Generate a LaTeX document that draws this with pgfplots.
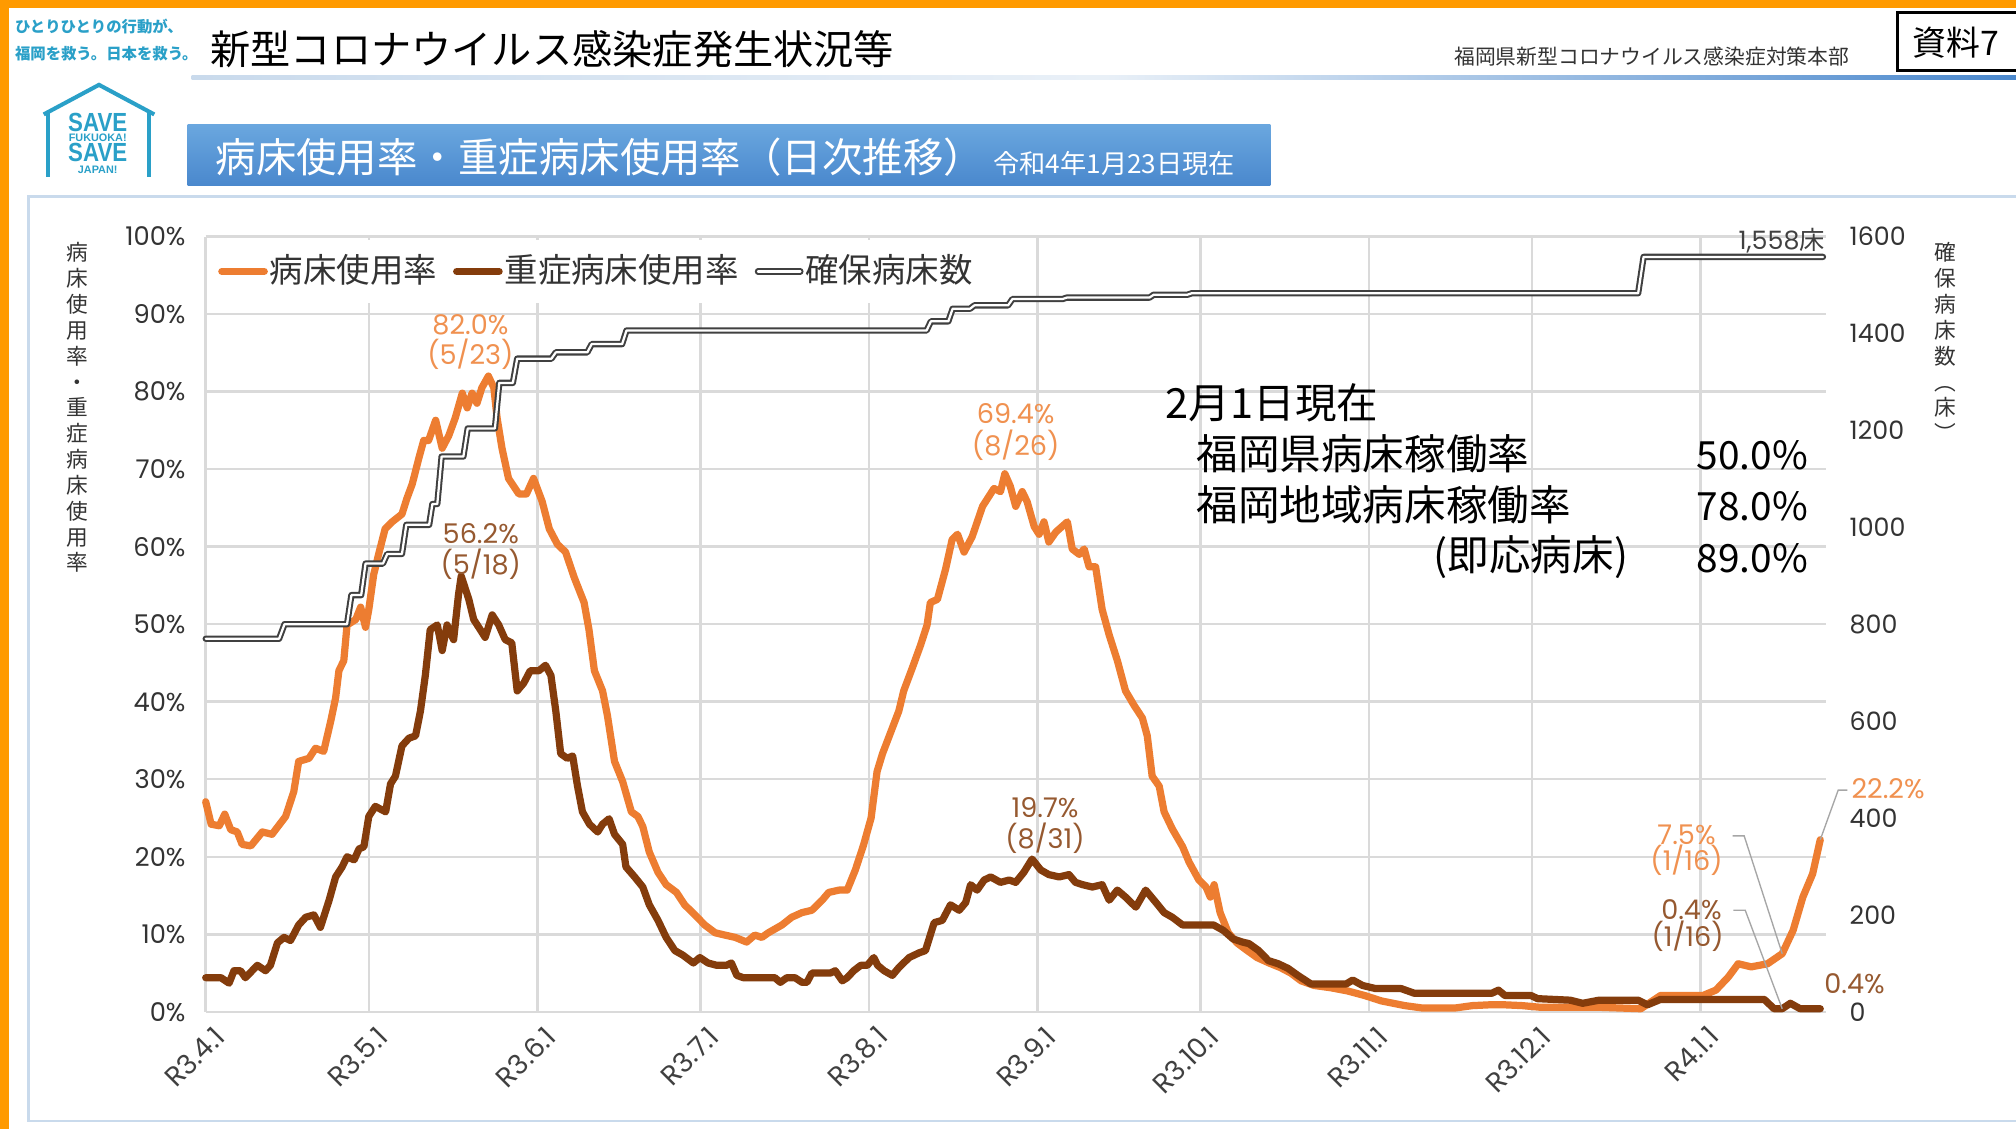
\documentclass[border=0pt]{standalone}
\usepackage{fontspec}
\setmainfont{Noto Sans CJK JP}
\newfontfamily\cjk{Noto Sans CJK JP}
\newfontfamily\num{Poppins}
\usepackage{graphicx}
\usepackage{pgfplots}
\pgfplotsset{compat=1.18}
\definecolor{cOr}{HTML}{ED7D31}
\definecolor{cBr}{HTML}{843C0C}
\definecolor{cFrame}{HTML}{FF9A00}
\definecolor{cTeal}{HTML}{2AA0C8}
\definecolor{cGrid}{HTML}{DADADA}
\definecolor{cBed}{HTML}{404040}
\definecolor{cBanTop}{HTML}{6AA7DF}
\definecolor{cBanBot}{HTML}{4A88CD}
\definecolor{cBox}{HTML}{C9DAEC}
\definecolor{cLead}{HTML}{A6A6A6}
\tikzset{bedline/.style={draw=cBed, double=white, double distance=0.5pt, line width=0.45pt, line cap=round, line join=round}}
\begin{document}
\begin{tikzpicture}
\begin{scope}[x=0.1mm,y=-0.1mm]
\useasboundingbox (0,0) rectangle (1568,878);
\fill[white] (0,0) rectangle (1568,878);
\fill[cFrame] (0,0) rectangle (1568,6);
\fill[cFrame] (0,0) rectangle (7,878);
% header
\node[anchor=west, inner sep=0, text=cTeal, font=\cjk\bfseries\fontsize{3.4}{4}\selectfont] at (11,21) {ひとりひとりの行動が、};
\node[anchor=west, inner sep=0, text=cTeal, font=\cjk\bfseries\fontsize{3.4}{4}\selectfont] at (11,42) {福岡を救う。日本を救う。};
\node[anchor=west, inner sep=0, font=\cjk\fontsize{8.9}{9}\selectfont] at (163,38) {新型コロナウイルス感染症発生状況等};
\node[anchor=east, inner sep=0, text=black!80, font=\cjk\fontsize{4.6}{5}\selectfont] at (1439,44) {福岡県新型コロナウイルス感染症対策本部};
\draw[black, line width=0.6pt] (1476,10) rectangle (1575,55);
\node[inner sep=0, font=\cjk\fontsize{7.5}{8}\selectfont] at (1521,33) {資料7};
\shade[left color=cBox, right color=cBanBot, middle color=cBox!40!white] (149,58.5) rectangle (1568,62);
% logo
\draw[cTeal, line width=0.9pt, line join=miter] (34,89) -- (77,66) -- (120,89);
\draw[cTeal, line width=0.9pt] (37,86) -- (37,138);
\draw[cTeal, line width=0.9pt] (116,86) -- (116,138);
\node[inner sep=0, text=cTeal, font=\fontspec{Liberation Sans}\bfseries\fontsize{5.8}{6}\selectfont] at (76,95) {\scalebox{0.85}[1]{SAVE}};
\node[inner sep=0, text=cTeal, font=\fontspec{Liberation Sans}\bfseries\fontsize{2.4}{3}\selectfont] at (76,107) {FUKUOKA!};
\node[inner sep=0, text=cTeal, font=\fontspec{Liberation Sans}\bfseries\fontsize{5.8}{6}\selectfont] at (76,119) {\scalebox{0.85}[1]{SAVE}};
\node[inner sep=0, text=cTeal, font=\fontspec{Liberation Sans}\bfseries\fontsize{2.4}{3}\selectfont] at (76,132) {JAPAN!};
% banner
\shade[top color=cBanTop, bottom color=cBanBot] (146,97) rectangle (988,144);
\node[anchor=west, text=white, inner sep=0, font=\cjk\fontsize{8.95}{9}\selectfont] at (167,122) {病床使用率・重症病床使用率（日次推移）};
\node[anchor=west, text=white, inner sep=0, font=\cjk\fontsize{5.8}{6}\selectfont] at (772,127) {令和4年1月23日現在};
% chart frame
\draw[cBox, line width=0.6pt] (22,153) rectangle (1590,872);
% axis labels
\node[anchor=north, align=center, inner sep=0, text=black!80, font=\cjk\fontsize{4.8}{5.72}\selectfont] at (60,188) {病\\床\\使\\用\\率\\・\\重\\症\\病\\床\\使\\用\\率};
\node[anchor=north, align=center, inner sep=0, text=black!80, font=\cjk\fontsize{4.8}{5.72}\selectfont] at (1513,188) {確\\保\\病\\床\\数\\︵\\床\\︶};
\end{scope}

\begin{axis}[
  at={(16mm,-78.7mm)}, anchor=south west, scale only axis,
  width=126mm, height=60.3mm,
  xmin=0, xmax=298, ymin=0, ymax=100,
  axis line style={draw=none}, major tick length=0pt,
  xtick={0,30,61,91,122,153,183,214,244,275},
  xticklabels={R3.4.1,R3.5.1,R3.6.1,R3.7.1,R3.8.1,R3.9.1,R3.10.1,R3.11.1,R3.12.1,R4.1.1},
  ytick={0,10,...,100},
  yticklabels={0\%,10\%,20\%,30\%,40\%,50\%,60\%,70\%,80\%,90\%,100\%},
  grid=major, grid style={draw=cGrid, line width=0.55pt},
  xticklabel style={font=\num\fontsize{6.1}{7}\selectfont, text=black!75, inner sep=0pt, xshift=1.1mm, yshift=-1.5mm, rotate=45, anchor=east},
  yticklabel style={font=\num\fontsize{5.7}{6}\selectfont, text=black!80, inner sep=0pt, anchor=east, xshift=-1.5mm},
  clip=false,
  legend columns=3,
  legend style={at={(0.0024,0.997)}, anchor=north west, draw=none, fill=white, inner xsep=0.6mm, inner ysep=0.5mm,
    font=\cjk\fontsize{7.4}{8}\selectfont, text=black!80,
    nodes={inner xsep=0.15mm, inner ysep=0.6mm},
    /tikz/every even column/.append style={column sep=1.1mm}},
  legend image code/.code={\draw[#1] (0mm,0mm) -- (3.3mm,0mm);},
]
\addplot[cOr, line width=1.6pt, line join=round, line cap=round] coordinates {
(0,27.1)(1,24.2)(2.5,24)(3.5,25.5)(4.6,23.5)(5.8,23.2)(6.7,21.6)(8.3,21.4)(10.4,23.2)(12.2,22.9)
(14.7,25.2)(16.2,28.4)(17.1,32.3)(19,32.7)(20.2,34)(21.7,33.6)(23,37.5)(23.9,40.5)(24.5,44)(25.4,45.3)
(26,49.9)(27.6,50.6)(28.5,52.2)(29.4,49.6)(30,51.9)(30.9,56.4)(31.8,59)(33,62.3)(34.3,63.2)(36.1,64.2)
(37,66.2)(38,68.1)(39.2,71.4)(40.1,73.7)(41,73.7)(42.3,76.3)(43.5,72.7)(44.7,74.3)(45.9,76.6)(47.2,79.8)
(48.1,77.9)(49,79.8)(49.9,78.5)(50.8,80.5)(52,82.0)(53,80.5)(53.6,76.6)(54.5,72.7)(55.7,68.8)(57.6,66.8)
(59,66.8)(60.3,68.8)(61.9,65.8)(63.2,62.3)(64.7,60.3)(66.2,59.3)(67.8,56)(69.6,52.8)(70.5,49.3)(71.5,44)
(73,41.4)(73.9,38.2)(75.2,32.3)(76.7,29.7)(78.3,25.8)(79.5,25.2)(80.4,23.9)(81.6,20.6)(83.2,18)(84.7,16.4)
(86.6,15.4)(88.1,13.8)(90,12.5)(91.8,11.2)(93.7,10.2)(95.5,9.9)(97.4,9.6)(99.5,9)(101,9.9)(102.3,9.6)
(103.5,10.2)(106,11.2)(107.8,12.2)(109.7,12.8)(111.5,13.1)(113.4,14.4)(114.6,15.4)(116.5,15.7)(118,15.7)(119.5,18.3)
(121,21.5)(122.4,25)(123.5,31)(124.5,33.3)(126.3,36.6)(127.5,38.8)(128.4,41.4)(130,44.4)(131.5,47.3)(132.7,49.9)
(133.3,52.8)(134.6,53.2)(136.1,57.1)(137.3,60.9)(138.3,61.6)(139.5,59.3)(141,61.3)(142.9,65.2)(145,67.5)(146.2,67.1)
(147,69.4)(148,67.8)(149,65.2)(150.2,67.1)(151.1,65.8)(152.4,62.6)(153.3,61.6)(154.2,63.2)(155.1,60.6)(156.4,61.9)
(158.5,63.2)(159.4,59.7)(160.7,59)(161.6,59.7)(162.5,57.4)(163.7,57.4)(164.9,51.9)(166.2,48.6)(167.7,45.3)(169.2,41.4)
(170.8,39.5)(172.3,37.9)(173.2,35.6)(174.1,30.4)(175.4,29.1)(176.3,25.8)(177.8,23.6)(179.7,21.3)(180.9,19.3)(182.7,17)
(184,16.1)(184.8,14.8)(185.5,16.4)(186.6,12.8)(188.1,10.2)(189.7,8.9)(191.6,7.9)(193.4,7)(195.6,6.3)(197.7,5.7)
(199.6,5)(201.5,4)(203.9,3.4)(207,3.1)(210,2.7)(213.2,2.1)(216.3,1.4)(220.6,0.8)(223.7,0.5)(226.8,0.5)
(229.9,0.5)(233,0.8)(236,0.9)(239.1,0.9)(242.2,0.8)(245.3,0.6)(248.6,0.6)(255.7,0.6)(264,0.4)(267.6,2.1)
(271.2,2.1)(275.4,2.1)(277.8,2.8)(280.1,4.5)(281.9,6.2)(284.3,5.8)(287.3,6.2)(290,7.5)(292,10.5)(293.8,14.8)
(295.6,17.8)(297,22.2)
};
\addlegendentry{病床使用率}
\addplot[cBr, line width=1.6pt, line join=round, line cap=round] coordinates {
(0,4.4)(2.8,4.4)(4.3,3.7)(5.2,5.3)(6.4,5.3)(7.3,4.4)(9.5,6)(11,5.3)(11.9,6)(13.2,8.9)
(14.4,9.6)(15.6,9.2)(17.1,11.2)(18.4,12.2)(19.9,12.5)(21.1,10.9)(22.7,14.4)(23.9,17.4)(25.1,18.7)(26,20)
(27.3,19.6)(28.2,21)(29.1,21.3)(30,25.2)(31.2,26.5)(33.1,25.8)(34,29.4)(34.9,30.4)(36.1,34.3)(37.4,35.3)
(38.6,35.6)(39.5,38.8)(40.4,43.4)(41.3,49.3)(42.6,49.9)(43.5,46.6)(44.4,49.9)(45.6,48)(46.5,53.8)(47,56.2)
(48.4,53.2)(49.3,50.6)(50.5,49.3)(51.4,48.3)(52.7,51.2)(53.9,49.9)(55.1,48)(56.3,47.6)(57.3,41.4)(58.5,42.4)
(59.7,44)(61.3,44)(62.5,44.7)(63.5,43.4)(64.4,38.8)(65.3,33.3)(66.5,32.7)(67.5,33)(68.4,29.1)(69.3,25.8)
(70.6,24.2)(72.1,23.2)(73,24.2)(74.2,24.9)(75.2,22.9)(76.7,21.6)(77.3,18.7)(78.9,17.4)(80.4,16.1)(81.6,13.8)
(83.2,11.8)(84.7,9.6)(86.3,7.9)(87.8,7.3)(89.7,6.3)(90.9,7)(92.4,6.3)(94,6)(95.8,6)(96.7,6.3)
(97.7,4.7)(98.9,4.4)(103.5,4.4)(104.7,4.4)(105.7,3.8)(106.9,4.4)(108.4,4.4)(109.7,3.8)(110.6,3.8)(111.5,5)
(113.4,5)(114.9,5)(115.8,5.3)(117.1,4)(118,4.4)(119.2,5.3)(120.5,6)(121.7,6)(122.9,7)(123.6,6)
(124.8,5.3)(126.3,4.7)(127.5,5.7)(129.4,7)(131.2,7.6)(132.4,7.9)(134,11.5)(135.5,11.8)(137,13.8)(138.6,13.1)
(139.8,14.1)(140.7,16.4)(141.9,15.7)(143.2,17)(144.4,17.4)(146.2,16.7)(147.8,17)(149,16.7)(150.5,18)(152,19.7)
(153.6,18.3)(155.1,17.7)(157,17.4)(158.8,17.7)(160,16.7)(161.3,16.4)(163.1,16.1)(164.9,16.4)(166.2,14.4)(167.7,15.7)
(169.2,14.8)(171.1,13.5)(172.9,15.7)(174.8,14.1)(176.3,12.8)(177.8,12.2)(179.7,11.2)(185.4,11.2)(187.2,10.5)(189,9.4)
(190.7,9)(191.9,8.8)(193.7,7.9)(195.5,6.6)(197.3,6.2)(199.1,5.6)(200.9,4.7)(203.3,3.6)(209.8,3.6)(211,4.1)
(212.8,3.4)(215.2,3)(219.9,3)(222.3,2.4)(236.6,2.4)(237.8,2.8)(239,2.1)(243.8,2.1)(245,1.7)(251,1.5)
(253.3,1.1)(256.3,1.5)(263.5,1.5)(265.2,0.9)(267.6,1.6)(286.7,1.6)(288.5,0.4)(290,0.4)(291.5,1.1)(293.3,0.4)
(297,0.4)
};
\addlegendentry{重症病床使用率}
\addlegendimage{bedline}
\addlegendentry{確保病床数}
% annotations
\node[inner sep=0, text=cOr!85!white, font=\num\fontsize{6}{6}\selectfont] at (48.7,88.6) {82.0\%};
\node[inner sep=0, text=cOr!85!white, font=\num\fontsize{6}{6}\selectfont] at (48.7,84.8) {(5/23)};
\node[inner sep=0, text=cBr!85!white, font=\num\fontsize{6}{6}\selectfont] at (50.6,61.7) {56.2\%};
\node[inner sep=0, text=cBr!85!white, font=\num\fontsize{6}{6}\selectfont] at (50.6,57.7) {(5/18)};
\node[inner sep=0, text=cOr!85!white, font=\num\fontsize{6}{6}\selectfont] at (149,77.1) {69.4\%};
\node[inner sep=0, text=cOr!85!white, font=\num\fontsize{6}{6}\selectfont] at (149,73.1) {(8/26)};
\node[inner sep=0, text=cBr!85!white, font=\num\fontsize{6}{6}\selectfont] at (154.4,26.3) {19.7\%};
\node[inner sep=0, text=cBr!85!white, font=\num\fontsize{6}{6}\selectfont] at (154.4,22.4) {(8/31)};
\draw[cLead, line width=0.3pt] (297,22.2) -- (300.3,28.6) -- (302,28.6);
\node[anchor=west, inner sep=0, text=cOr!85!white, font=\num\fontsize{6}{6}\selectfont] at (302.6,28.8) {22.2\%};
\draw[cLead, line width=0.3pt] (290,7.5) -- (283,22.7) -- (280.9,22.7);
\node[inner sep=0, text=cOr!85!white, font=\num\fontsize{6}{6}\selectfont] at (272.4,22.8) {7.5\%};
\node[inner sep=0, text=cOr!85!white, font=\num\fontsize{6}{6}\selectfont] at (272.4,19.5) {(1/16)};
\draw[cLead, line width=0.3pt] (290,0.4) -- (283.2,13.1) -- (281,13.1);
\node[inner sep=0, text=cBr!85!white, font=\num\fontsize{6}{6}\selectfont] at (273.3,13.2) {0.4\%};
\node[inner sep=0, text=cBr!85!white, font=\num\fontsize{6}{6}\selectfont] at (272.6,9.8) {(1/16)};
\node[inner sep=0, text=cBr!85!white, font=\num\fontsize{6}{6}\selectfont] at (303.3,3.6) {0.4\%};
\end{axis}

\begin{axis}[
  at={(16mm,-78.7mm)}, anchor=south west, scale only axis,
  width=126mm, height=60.3mm,
  xmin=0, xmax=298, ymin=0, ymax=1600,
  hide x axis, axis y line*=right, axis line style={draw=none}, major tick length=0pt,
  ytick={0,200,...,1600},
  yticklabels={0,200,400,600,800,1000,1200,1400,1600},
  yticklabel style={font=\num\fontsize{5.6}{6}\selectfont, text=black!80, inner sep=0pt, anchor=west, xshift=1.8mm},
  clip=false,
]
\addplot[bedline] coordinates {
(0,770)(13.5,770)(14.5,800)(26,800)(26.8,860)(28.6,860)(29.4,925)(32.6,925)(33.4,945)(36.1,945)
(36.9,1005)(41.1,1005)(41.7,1048)(42.6,1048)(43.4,1146)(47.4,1146)(48.2,1204)(53.2,1204)(54,1298)(56.5,1298)
(57.3,1348)(63.6,1348)(64.4,1361)(70.2,1361)(71,1378)(76.6,1378)(77.4,1406)(132.6,1406)(133.4,1425)(136.6,1425)
(137.4,1451)(140.6,1451)(141.4,1458)(147.6,1458)(148.4,1471)(157.6,1471)(158.4,1474)(173.6,1474)(174.4,1480)(180.6,1480)
(181.4,1483)(263.5,1483)(264.5,1558)(297.5,1558)
};
\node[anchor=east, inner sep=0, text=black!75, yshift=1.3mm] at (298,1558) {{\num\fontsize{5.6}{6}\selectfont 1,558}{\cjk\fontsize{5.6}{6}\selectfont 床}};
\end{axis}

\begin{scope}[x=0.1mm,y=-0.1mm]
\node[anchor=west, inner sep=0, font=\cjk\fontsize{9.2}{10}\selectfont] at (906,313) {2月1日現在};
\node[anchor=west, inner sep=0, font=\cjk\fontsize{9.2}{10}\selectfont] at (930,353) {福岡県病床稼働率};
\node[anchor=east, inner sep=0, font=\cjk\fontsize{8.6}{10}\selectfont] at (1407,354) {50.0\%};
\node[anchor=west, inner sep=0, font=\cjk\fontsize{9.2}{10}\selectfont] at (930,393) {福岡地域病床稼働率};
\node[anchor=east, inner sep=0, font=\cjk\fontsize{8.6}{10}\selectfont] at (1407,394) {78.0\%};
\node[anchor=east, inner sep=0, font=\cjk\fontsize{9.2}{10}\selectfont] at (1267,433) {(即応病床)};
\node[anchor=east, inner sep=0, font=\cjk\fontsize{8.6}{10}\selectfont] at (1407,434) {89.0\%};
\end{scope}
\end{tikzpicture}
\end{document}
